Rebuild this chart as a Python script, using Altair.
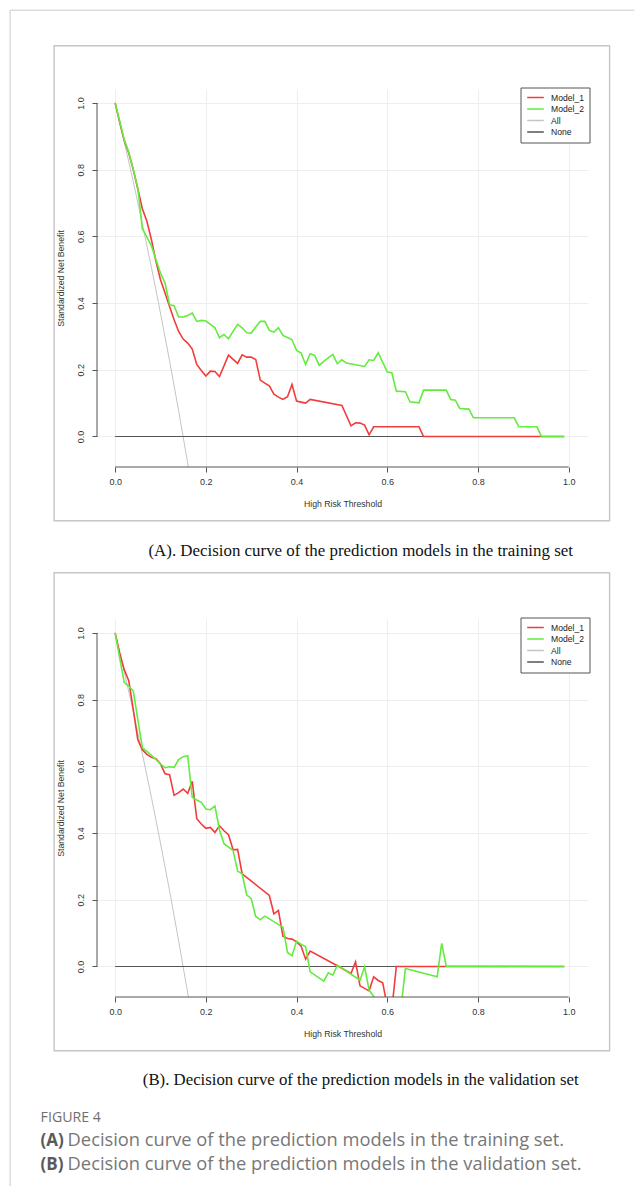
import altair as alt
import pandas as pd

# ---------------- data ----------------
# Panel A: training set
a_m1_x = [0.00,0.01,0.02,0.03,0.04,0.05,0.06,0.07,0.08,0.09,0.10,0.11,0.12,0.13,0.14,0.15,0.16,0.17,0.18,0.19,0.20,0.21,0.22,0.23,
          0.25,0.27,0.28,0.29,0.30,0.31,
          0.32,0.33,0.34,0.35,0.36,0.37,0.38,0.39,0.40,0.41,0.42,0.43,
          0.50,0.52,0.53,0.54,0.55,0.56,0.57,
          0.67,0.68,0.99]
a_m1_y = [1.000,0.942,0.887,0.850,0.800,0.742,0.683,0.645,0.590,0.525,0.470,0.430,0.390,0.350,0.315,0.292,0.280,0.262,0.216,0.198,0.181,0.196,0.195,0.180,
          0.244,0.219,0.245,0.238,0.238,0.231,
          0.169,0.160,0.152,0.127,0.118,0.111,0.119,0.156,0.106,0.103,0.100,0.111,
          0.093,0.032,0.041,0.040,0.034,0.005,0.029,
          0.029,0.000,0.000]

a_m2_x = [0.00,0.01,0.02,0.03,0.04,0.05,0.06,0.07,0.08,0.09,0.10,0.11,0.12,0.13,0.14,0.15,0.16,0.17,0.18,0.19,
          0.20,0.21,0.22,0.23,0.24,0.25,0.26,0.27,0.28,0.29,0.30,0.31,0.32,0.33,0.34,0.35,0.36,0.37,0.38,0.39,
          0.40,0.41,0.42,0.43,0.44,0.45,0.46,0.47,0.48,0.49,0.50,0.51,
          0.55,0.56,0.57,0.58,0.59,0.60,0.61,0.62,
          0.64,0.65,0.67,0.68,
          0.73,0.74,0.75,0.76,0.78,0.79,
          0.88,0.89,0.93,0.94,0.99]
a_m2_y = [1.000,0.945,0.890,0.852,0.800,0.745,0.623,0.598,0.572,0.530,0.490,0.460,0.395,0.392,0.358,0.358,0.363,0.370,0.345,0.348,
          0.346,0.336,0.326,0.296,0.306,0.293,0.315,0.336,0.326,0.311,0.310,0.328,0.345,0.345,0.318,0.313,0.326,0.303,0.297,0.290,
          0.258,0.250,0.216,0.248,0.243,0.213,0.225,0.236,0.246,0.218,0.230,0.220,
          0.210,0.230,0.228,0.251,0.222,0.193,0.191,0.136,
          0.134,0.104,0.101,0.139,
          0.139,0.111,0.109,0.084,0.082,0.056,
          0.056,0.029,0.029,0.000,0.000]

# Panel B: validation set
b_m1_x = [0.00,0.01,0.02,0.03,0.04,0.05,0.06,0.07,0.08,0.09,0.10,0.11,0.12,0.13,0.14,0.15,0.16,0.17,0.18,0.19,
          0.20,0.21,0.22,0.23,0.24,0.25,0.26,0.27,0.28,
          0.34,0.35,0.36,0.37,0.38,0.39,0.40,0.41,0.42,0.43,
          0.49,0.52,0.53,0.54,0.56,0.57,0.58,0.59,0.60,0.61,0.62,0.99]
b_m1_y = [1.000,0.940,0.890,0.857,0.770,0.680,0.650,0.636,0.627,0.623,0.607,0.578,0.575,0.513,0.521,0.532,0.519,0.555,0.443,0.427,
          0.414,0.417,0.402,0.422,0.407,0.395,0.350,0.351,0.278,
          0.213,0.158,0.168,0.091,0.084,0.082,0.074,0.061,0.022,0.046,
          0.002,-0.021,0.014,-0.058,-0.073,-0.031,-0.042,-0.049,-0.120,-0.130,0.000,0.000]

b_m2_x = [0.00,0.01,0.02,0.03,0.04,0.05,0.06,0.07,0.08,0.09,0.10,0.11,0.12,0.13,0.14,0.15,0.16,0.17,0.18,0.19,
          0.20,0.21,0.22,0.23,0.24,0.25,0.26,0.27,0.28,0.29,0.30,0.31,0.32,0.33,
          0.37,0.38,0.39,0.40,0.41,0.42,0.43,
          0.46,0.47,0.48,0.49,
          0.54,0.55,0.56,0.57,0.58,
          0.63,0.64,
          0.71,0.72,0.73,0.99]
b_m2_y = [1.000,0.925,0.852,0.840,0.826,0.740,0.656,0.645,0.633,0.620,0.607,0.596,0.599,0.597,0.620,0.629,0.632,0.507,0.499,0.492,
          0.472,0.470,0.481,0.410,0.368,0.358,0.348,0.286,0.278,0.215,0.203,0.150,0.140,0.151,
          0.118,0.042,0.032,0.076,0.067,0.059,-0.016,
          -0.044,-0.019,-0.026,0.004,
          -0.041,-0.001,-0.071,-0.090,-0.120,
          -0.130,-0.006,
          -0.031,0.069,0.001,0.000]

# Treat-all and treat-none reference curves (same in both panels)
all_x = [0.00,0.02,0.04,0.06,0.08,0.10,0.12,0.14,0.16,0.17]
all_y = [1.000,0.884,0.764,0.638,0.507,0.370,0.227,0.077,-0.080,-0.165]
none_x = [0.00,0.99]
none_y = [0.0,0.0]

series_names = ["Model_1", "Model_2", "All", "None"]
series_colors = ["#f23c3c", "#62ec3e", "#c4c4c4", "#555555"]
tick_vals = [0.0, 0.2, 0.4, 0.6, 0.8, 1.0]

caption_a = "(A). Decision curve of the prediction models in the training set"
caption_b = "(B). Decision curve of the prediction models in the validation set"
fig_label = "FIGURE 4"
fig_a_tag, fig_a_text = "(A)", "Decision curve of the prediction models in the training set."
fig_b_tag, fig_b_text = "(B)", "Decision curve of the prediction models in the validation set."

# ---------------- layout ----------------
W, H = 491, 378
SANS = "Liberation Sans"

xs = alt.Scale(domain=[-0.04, 1.0426], nice=False, zero=False)
ys = alt.Scale(domain=[-0.0915, 1.0418], nice=False, zero=False)

xaxis = alt.Axis(values=tick_vals, format=".1f", title="High Risk Threshold", domain=False,
                 tickSize=5, tickColor="#555555", tickWidth=1,
                 labelFont=SANS, labelFontSize=9, labelColor="#333333", labelPadding=5.5,
                 labelFlush=False, labelOverlap=False,
                 grid=True, gridColor="#eeeeee", gridWidth=1,
                 titleFont=SANS, titleFontSize=8.7, titleFontWeight="normal", titleColor="#333333",
                 titleX=W / 2, titleY=36.6, titleAlign="center", titleBaseline="middle")
yaxis = alt.Axis(values=tick_vals, format=".1f", title="Standardized Net Benefit", domain=False,
                 tickSize=5, tickColor="#555555", tickWidth=1,
                 labelFont=SANS, labelFontSize=9, labelColor="#333333", labelPadding=6.5,
                 labelAngle=270, labelAlign="center", labelBaseline="bottom",
                 labelFlush=False, labelOverlap=False,
                 grid=True, gridColor="#eeeeee", gridWidth=1,
                 titleFont=SANS, titleFontSize=8.7, titleFontWeight="normal", titleColor="#333333",
                 titleAngle=270, titleX=-36.4, titleY=H / 2, titleAlign="center", titleBaseline="middle")

legend = alt.Legend(orient="none", legendX=423.5, legendY=-1.5, title=None,
                    symbolType="stroke", symbolSize=275, symbolStrokeWidth=1.5,
                    labelFont=SANS, labelFontSize=8.6, labelColor="#222222", labelOffset=6,
                    clipHeight=9, rowPadding=1.5,
                    padding=5.5, strokeColor="#555555", fillColor="white",
                    cornerRadius=0)

X = alt.X("x:Q", scale=xs, axis=xaxis)
Y = alt.Y("y:Q", scale=ys, axis=yaxis)
C = alt.Color("series:N", scale=alt.Scale(domain=series_names, range=series_colors), legend=legend)


def sdf(xv, yv, name):
    return pd.DataFrame({"x": xv, "y": yv, "series": name})


def one(**kw):
    return pd.DataFrame({k: [v] for k, v in kw.items()})


def panel(m1x, m1y, m2x, m2y, frame_top, caption, cap_y, cap_size, extra=()):
    frame = alt.Chart(one(a=0)).mark_rect(fillOpacity=0, stroke="#c6c6c6", strokeWidth=1.4).encode(
        x=alt.value(-42.9), x2=alt.value(512.6), y=alt.value(frame_top), y2=alt.value(431.7))
    lines = []
    for xv, yv, name, sw in [(all_x, all_y, "All", 1.0), (none_x, none_y, "None", 1.2),
                             (m1x, m1y, "Model_1", 1.6), (m2x, m2y, "Model_2", 1.6)]:
        lines.append(alt.Chart(sdf(xv, yv, name)).mark_line(clip=True, strokeWidth=sw).encode(
            x=X, y=Y, color=C))
    xline = alt.Chart(one(x=0.0, x2=1.0)).mark_rule(color="#555555", strokeWidth=1).encode(
        x=X, x2="x2:Q", y=alt.value(H))
    yline = alt.Chart(one(y=0.0, y2=1.0)).mark_rule(color="#555555", strokeWidth=1).encode(
        y=Y, y2="y2:Q", x=alt.value(0))
    cap = alt.Chart(one(t=caption)).mark_text(font="Liberation Serif", fontSize=cap_size, color="#111111",
                                              align="center", baseline="middle").encode(
        x=alt.value(263.7), y=alt.value(cap_y), text="t:N")
    return alt.layer(frame, *lines, xline, yline, cap, *extra).properties(width=W, height=H)


# page border (top and left hairlines)
border_top = alt.Chart(one(a=0)).mark_rule(color="#cccccc", strokeWidth=1).encode(
    x=alt.value(-86.9), x2=alt.value(537.5), y=alt.value(-78.8))
border_left = alt.Chart(one(a=0)).mark_rule(color="#cccccc", strokeWidth=1).encode(
    x=alt.value(-86.9), y=alt.value(-78.8), y2=alt.value(1097))

# figure caption (below panel B)
FS = "Open Sans"
fig_lab = alt.Chart(one(t=fig_label)).mark_text(font=FS, fontSize=14.2, color="#707070",
                                                align="left", baseline="middle").encode(
    x=alt.value(-56.4), y=alt.value(498.7), text="t:N")
fa_tag = alt.Chart(one(t=fig_a_tag)).mark_text(font=FS, fontSize=17, fontWeight="bold", color="#5a5a5a",
                                               align="left", baseline="middle").encode(
    x=alt.value(-56.4), y=alt.value(521.7), text="t:N")
fa_txt = alt.Chart(one(t=fig_a_text)).mark_text(font=FS, fontSize=18.3, color="#777777",
                                                align="left", baseline="middle").encode(
    x=alt.value(-29.4), y=alt.value(521.7), text="t:N")
fb_tag = alt.Chart(one(t=fig_b_tag)).mark_text(font=FS, fontSize=17, fontWeight="bold", color="#5a5a5a",
                                               align="left", baseline="middle").encode(
    x=alt.value(-56.4), y=alt.value(545.7), text="t:N")
fb_txt = alt.Chart(one(t=fig_b_text)).mark_text(font=FS, fontSize=18.3, color="#777777",
                                                align="left", baseline="middle").encode(
    x=alt.value(-29.4), y=alt.value(545.7), text="t:N")

panel_a = panel(a_m1_x, a_m1_y, a_m2_x, a_m2_y, -43.3, caption_a, 461.7, 16.9,
                extra=(border_top, border_left))
panel_b = panel(b_m1_x, b_m1_y, b_m2_x, b_m2_y, -46.3, caption_b, 460.7, 16.8,
                extra=(fig_lab, fa_tag, fa_txt, fb_tag, fb_txt))

chart = alt.vconcat(panel_a, panel_b, spacing=152, bounds="flush").resolve_scale(
    color="independent").properties(
    padding={"left": 1, "top": 1, "right": 0, "bottom": 0},
    background="white",
).configure_view(stroke=None)

chart.save("out.html", embed_options={"renderer": "svg", "actions": False})
